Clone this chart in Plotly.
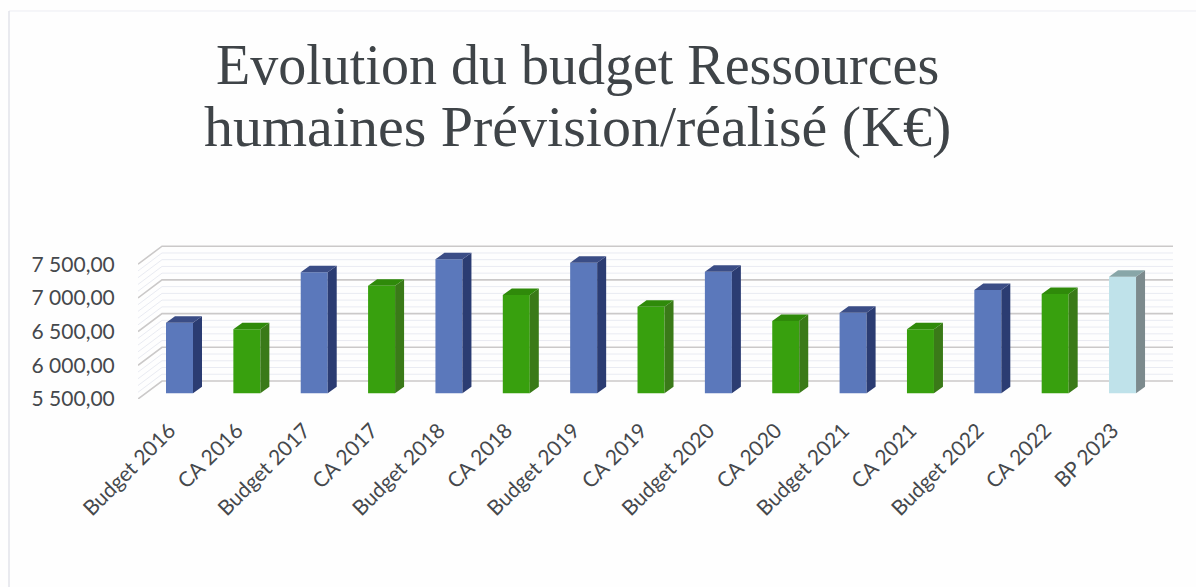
import plotly.graph_objects as go

categories = ["Budget 2016", "CA 2016", "Budget 2017", "CA 2017", "Budget 2018", "CA 2018",
              "Budget 2019", "CA 2019", "Budget 2020", "CA 2020", "Budget 2021", "CA 2021",
              "Budget 2022", "CA 2022", "BP 2023"]
values = [6547, 6450, 7295, 7097, 7488, 6958, 7438, 6785, 7304, 6573, 6696, 6450, 7033, 6973, 7230]
y_ticks = [5500, 6000, 6500, 7000, 7500]
y_tick_labels = ["5 500,00", "6 000,00", "6 500,00", "7 000,00", "7 500,00"]
minor_ticks = [v for v in range(5500, 7500, 100) if v not in y_ticks]
title_lines = ["Evolution du budget Ressources", "humaines Prévision/réalisé (K€)"]

W, H = 1196, 587
PX_X0, PX_X1 = 138, 1173          # plot box, px
PX_Y_BOTTOM, PX_Y_TOP = 399, 240
CENTER0, STEP = 179.5, 67.36      # px of first category, px per category
PX_PER_UNIT = 33.7 / 500
BAR_W_PX, DEPTH_X_PX, DEPTH_Y_PX = 27, 9, 6.5
WALL_X_PX, WALL_Y_PX = 24, 18
BAR_FLOOR_PX = 5.7                # bar feet sit this far above the front floor edge
LABEL_SHIFT_PX = 10

x_range = [(PX_X0 - CENTER0) / STEP, (PX_X1 - CENTER0) / STEP]
span = (PX_Y_BOTTOM - PX_Y_TOP) / PX_PER_UNIT
y_range = [5500, 5500 + span]
bar_low = 5500 - BAR_FLOOR_PX / PX_PER_UNIT
y2_range = [bar_low, bar_low + span]

half = BAR_W_PX / STEP / 2
dx = DEPTH_X_PX / STEP
dy = DEPTH_Y_PX / PX_PER_UNIT

STYLES = {
    "Budget": dict(front="#5b78bb", side="#2b3c72", top="#3b4d86"),
    "CA": dict(front="#38a00e", side="#3a7a18", top="#2f8a0a"),
    "BP": dict(front="#bfe2ea", side="#7c8a8d", top="#88a6a8"),
}

fig = go.Figure()

# back wall and left wall grid
wall_dx = WALL_X_PX / STEP
wall_dy = WALL_Y_PX / PX_PER_UNIT


def wall(vals, color, width):
    xs, ys = [], []
    for v in vals:
        xs += [x_range[0], x_range[0] + wall_dx, x_range[1], None]
        ys += [v, v + wall_dy, v + wall_dy, None]
    fig.add_trace(go.Scatter(x=xs, y=ys, mode="lines", line=dict(color=color, width=width),
                             hoverinfo="skip", showlegend=False, cliponaxis=False))


wall(minor_ticks, "#e9ebf2", 1)
wall(y_ticks, "#cbc9c9", 1.6)

# bars: front faces, then side and top faces, all derived from the values
for kind, st in STYLES.items():
    idx = [i for i, c in enumerate(categories) if c.startswith(kind)]
    fig.add_trace(go.Bar(x=idx, y=[values[i] - 5500 for i in idx], base=5500, width=2 * half,
                         yaxis="y2", marker=dict(color=st["front"], line=dict(width=0)),
                         hovertext=[categories[i] for i in idx], showlegend=False))
    sx, sy, tx, ty = [], [], [], []
    for i in idx:
        r = i + half
        l = i - half
        v = values[i]
        sx += [r, r + dx, r + dx, r, r, None]
        sy += [5500, 5500 + dy, v + dy, v, 5500, None]
        tx += [l, l + dx, r + dx, r, l, None]
        ty += [v, v + dy, v + dy, v, v, None]
    for px_, py_, col in ((sx, sy, st["side"]), (tx, ty, st["top"])):
        fig.add_trace(go.Scatter(x=px_, y=py_, yaxis="y2", mode="lines", fill="toself",
                                 fillcolor=col, line=dict(width=0, color=col),
                                 hoverinfo="skip", showlegend=False))

title_annotations = [
    dict(text=line, xref="paper", yref="paper", x=577 / W, y=1 - bottom / H, xanchor="center",
         yanchor="bottom", showarrow=False,
         font=dict(family="Liberation Serif", size=size, color="#3f4448"))
    for line, bottom, size in zip(title_lines, (98, 161), (56, 58))
]

fig.update_layout(
    width=W, height=H, autosize=False,
    margin=dict(l=0, r=0, t=0, b=0, pad=0),
    paper_bgcolor="#fefefe", plot_bgcolor="rgba(0,0,0,0)",
    barmode="overlay",
    annotations=title_annotations,
    xaxis=dict(domain=[PX_X0 / W, PX_X1 / W], range=x_range, tickmode="array", automargin=False,
               tickvals=[i - LABEL_SHIFT_PX / STEP for i in range(len(categories))],
               ticktext=categories, tickangle=-45,
               ticks="outside", ticklen=10, tickcolor="rgba(0,0,0,0)", showgrid=False,
               zeroline=False, showline=False,
               tickfont=dict(family="Lato", size=21, color="#45484c")),
    yaxis=dict(domain=[1 - PX_Y_BOTTOM / H, 1 - PX_Y_TOP / H], range=y_range, tickmode="array",
               automargin=False, tickvals=y_ticks, ticktext=y_tick_labels, ticks="outside",
               ticklen=18, tickcolor="rgba(0,0,0,0)", showgrid=False, zeroline=False,
               showline=False, tickfont=dict(family="Lato", size=21, color="#45484c")),
    yaxis2=dict(domain=[1 - PX_Y_BOTTOM / H, 1 - PX_Y_TOP / H], range=y2_range, overlaying="y",
                visible=False, automargin=False),
    shapes=[
        dict(type="line", xref="paper", yref="paper", x0=9 / W, x1=1, y0=1 - 11 / H, y1=1 - 11 / H,
             line=dict(color="#ecedf3", width=1), layer="below"),
        dict(type="line", xref="paper", yref="paper", x0=9 / W, x1=9 / W, y0=0, y1=1 - 11 / H,
             line=dict(color="#e2e3ea", width=1.5), layer="below"),
    ],
)

fig.write_html("out.html", config={"displayModeBar": False},
               post_script="document.body.style.margin='0';document.documentElement.style.overflow='hidden';")
